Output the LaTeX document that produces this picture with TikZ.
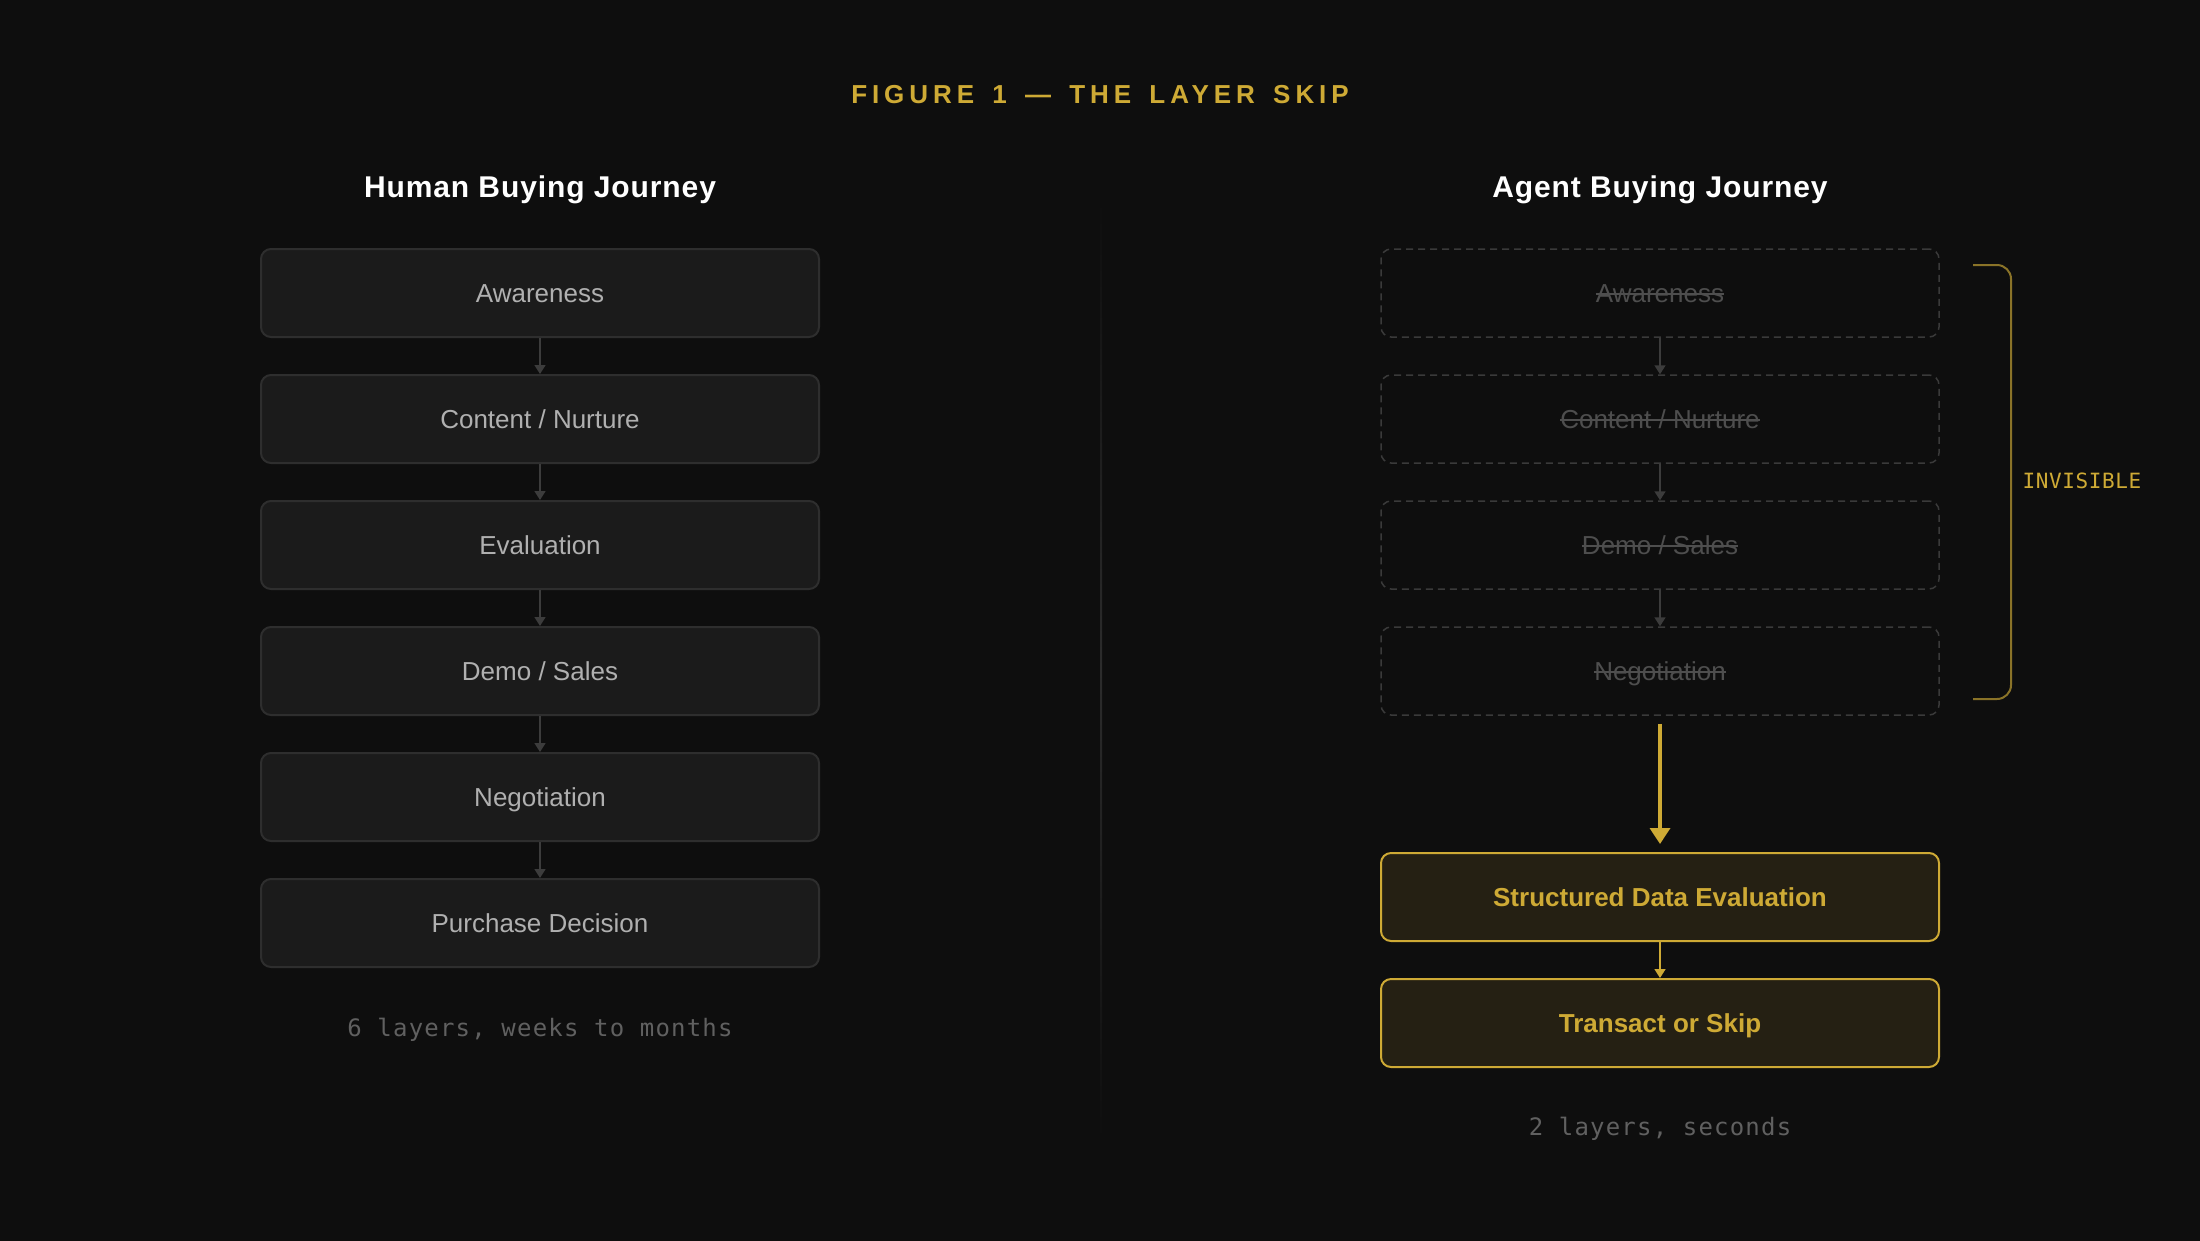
\documentclass[tikz,border=0pt]{standalone}
\usepackage{fontspec}
\setmainfont{Liberation Sans}
\newfontfamily\capfont{DejaVu Sans Mono}[LetterSpace=5]
\newfontfamily\tagfont{DejaVu Sans Mono}[LetterSpace=3]
\newfontfamily\trackfont{Liberation Sans}[LetterSpace=19, WordSpace=1.5]
\newfontfamily\headfont{Liberation Sans}[LetterSpace=3]
\newcommand{\strikeout}[1]{\setbox0\hbox{#1}\rlap{\raisebox{0.3em}{\rule{\wd0}{1.6pt}}}\box0}
\usetikzlibrary{arrows.meta}
\definecolor{bg}{HTML}{0E0E0E}
\definecolor{boxfill}{HTML}{1B1B1B}
\definecolor{boxline}{HTML}{2E2E2E}
\definecolor{boxtext}{HTML}{B0B0B0}
\definecolor{ghostline}{HTML}{3A3A3A}
\definecolor{ghosttext}{HTML}{4E4E4E}
\definecolor{arrowgrey}{HTML}{3C3C3C}
\definecolor{gold}{HTML}{CEAA35}
\definecolor{goldfill}{HTML}{252013}
\definecolor{golddim}{HTML}{8A7328}
\definecolor{captext}{HTML}{606060}
\definecolor{divider}{HTML}{2C2C2C}
\tikzset{
  boxbase/.style={rounded corners=10pt, minimum width=558pt, minimum height=88pt,
    inner sep=0pt, text height=19pt, text depth=0pt, font=\fontsize{26}{30}\selectfont},
  humanbox/.style={boxbase, draw=boxline, fill=boxfill, line width=2pt, text=boxtext},
  ghostbox/.style={boxbase, draw=ghostline, fill=bg, line width=1.5pt,
    dash pattern=on 7pt off 5pt, text=ghosttext},
  goldbox/.style={boxbase, draw=gold, fill=goldfill, line width=2pt, text=gold,
    font=\fontsize{26}{30}\selectfont\bfseries},
  conn/.style={draw=arrowgrey, line width=1.5pt, -{Triangle[length=9pt,width=11pt]}},
  goldconn/.style={draw=gold, line width=1.5pt, -{Triangle[length=9pt,width=11pt]}},
  bigconn/.style={draw=gold, line width=3.5pt, -{Triangle[length=16pt,width=20pt]}},
  header/.style={text=white, font=\fontsize{30}{34}\selectfont\headfont\bfseries},
  caption/.style={text=captext, font=\fontsize{24}{28}\selectfont\capfont},
}
\begin{document}
\begin{tikzpicture}[x=1pt, y=-1pt]
\useasboundingbox (0,0) rectangle (2200,1240);
\fill[bg] (-6,-6) rectangle (2206,1246);

\node[text=gold, font=\fontsize{26}{30}\selectfont\trackfont\bfseries] (title) at (1100,95) {FIGURE 1 — THE LAYER SKIP};

\shade[top color=bg, bottom color=bg, middle color=divider] (1100,200) rectangle (1102,1140);

% left column
\node[header] (hh) at (540,190) {Human Buying Journey};
\node[humanbox] (h1) at (540,293) {Awareness};
\node[humanbox] (h2) at (540,419) {Content / Nurture};
\node[humanbox] (h3) at (540,545) {Evaluation};
\node[humanbox] (h4) at (540,671) {Demo / Sales};
\node[humanbox] (h5) at (540,797) {Negotiation};
\node[humanbox] (h6) at (540,923) {Purchase Decision};
\draw[conn] (h1) -- (h2);
\draw[conn] (h2) -- (h3);
\draw[conn] (h3) -- (h4);
\draw[conn] (h4) -- (h5);
\draw[conn] (h5) -- (h6);
\node[caption] (hc) at (540,1030) {6 layers, weeks to months};

% right column
\node[header] (ah) at (1660,190) {Agent Buying Journey};
\node[ghostbox] (g1) at (1660,293) {\strikeout{Awareness}};
\node[ghostbox] (g2) at (1660,419) {\strikeout{Content / Nurture}};
\node[ghostbox] (g3) at (1660,545) {\strikeout{Demo / Sales}};
\node[ghostbox] (g4) at (1660,671) {\strikeout{Negotiation}};
\draw[conn] (g1) -- (g2);
\draw[conn] (g2) -- (g3);
\draw[conn] (g3) -- (g4);
\node[goldbox] (s1) at (1660,897) {Structured Data Evaluation};
\node[goldbox] (s2) at (1660,1023) {Transact or Skip};
\draw[bigconn] ([yshift=-8pt]g4.south) -- ([yshift=8pt]s1.north);
\draw[goldconn] (s1) -- (s2);
\node[caption] (ac) at (1660,1129) {2 layers, seconds};

% bracket
\draw[golddim, line width=2pt, rounded corners=14pt] (1973,265) -- (2011,265) -- (2011,699) -- (1973,699);
\node[text=gold, font=\fontsize{21}{24}\selectfont\tagfont, anchor=west] (inv) at (2019,481) {INVISIBLE};
\end{tikzpicture}
\end{document}
